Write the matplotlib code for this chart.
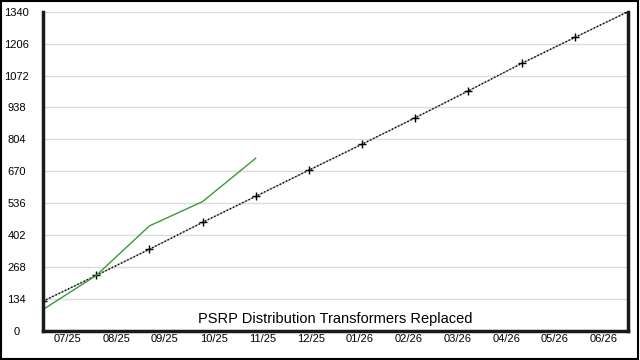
import matplotlib
matplotlib.use("Agg")
import matplotlib.pyplot as plt
from matplotlib.patches import Rectangle

plt.rcParams["font.family"] = ["Liberation Sans", "DejaVu Sans"]

# data
months = ["07/25", "08/25", "09/25", "10/25", "11/25", "12/25",
          "01/26", "02/26", "03/26", "04/26", "05/26", "06/26"]
y_ticks = [0, 134, 268, 402, 536, 670, 804, 938, 1072, 1206, 1340]
target = [125, 233, 343, 456, 565, 675, 784, 895, 1008, 1123, 1232, 1340]
actual = [90, 233, 441, 543, 725]
title = "PSRP Distribution Transformers Replaced"

n_pts = len(target)
span = len(months)
x_target = [k * span / (n_pts - 1) for k in range(n_pts)]
x_actual = x_target[:len(actual)]

fig = plt.figure(figsize=(6.4, 3.6), dpi=100)
ax = fig.add_axes([43 / 640, 1 - 331 / 360, 585 / 640, 319.3 / 360])

ax.set_xlim(0, span)
ax.set_ylim(0, 1340)
ax.set_yticks(y_ticks)
ax.set_yticklabels([str(v) for v in y_ticks], fontsize=8, ha="center")
ax.set_xticks([i + 0.5 for i in range(span)])
ax.set_xticklabels(months, fontsize=8)
ax.tick_params(axis="y", length=0, pad=19)
ax.tick_params(axis="x", length=0, pad=2)
ax.yaxis.grid(True, color="#dcdcdc", linewidth=1)
ax.set_axisbelow(True)

for side in ("left", "bottom", "right"):
    ax.spines[side].set_linewidth(2.5)
    ax.spines[side].set_color("#1a1a1a")
ax.spines["top"].set_visible(False)

# target line: grey under a black dotted line, with + markers
ax.plot(x_target, target, color="#aaaaaa", linewidth=1)
ax.plot(x_target, target, color="black", linewidth=1, dashes=(1, 1.5),
        marker="+", markersize=6, markeredgewidth=1.0)
ax.plot(x_actual, actual, color="#3a9a3a", linewidth=1)

ax.text(0.5, 0.015, title, transform=ax.transAxes, ha="center", va="bottom",
        fontsize=10.5)

# outer frame
fig.patches.append(Rectangle((0.002, 0.003), 0.995, 0.993, transform=fig.transFigure,
                             fill=False, edgecolor="black", linewidth=1.5))

fig.savefig("out.png", dpi=100)
